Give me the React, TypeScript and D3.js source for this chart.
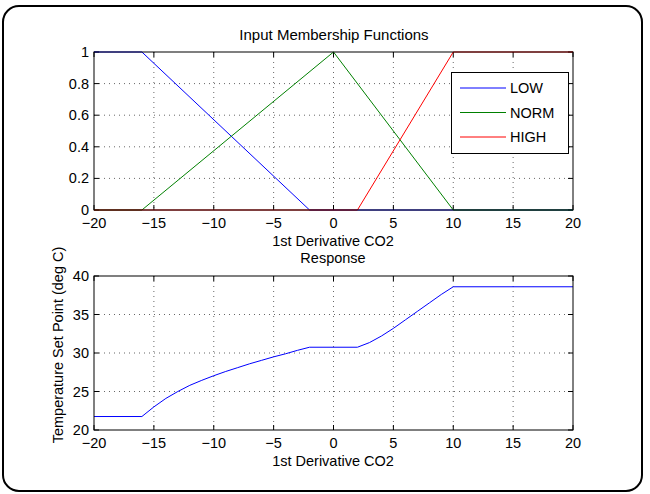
import React from "react";
import * as d3 from "d3";

const xTicks = [-20, -15, -10, -5, 0, 5, 10, 15, 20];
const yTicksTop = [0, 0.2, 0.4, 0.6, 0.8, 1];
const yTicksBottom = [20, 25, 30, 35, 40];

const lowX = [-20, -16, -2, 20];
const lowY = [1, 1, 0, 0];
const normX = [-20, -16, 0, 10, 20];
const normY = [0, 0, 1, 0, 0];
const highX = [-20, 2, 10, 20];
const highY = [0, 0, 1, 1];

const respX = [-20, -16, -15, -14, -13, -12, -11, -10, -9, -8, -7, -6, -5, -4, -3, -2, 2, 3, 4, 5, 6, 7, 8, 9, 10, 20];
const respY = [21.75, 21.75, 23.0, 24.1, 25.0, 25.8, 26.45, 27.05, 27.6, 28.1, 28.6, 29.05, 29.5, 29.9, 30.35, 30.75, 30.75, 31.35, 32.2, 33.2, 34.3, 35.4, 36.5, 37.6, 38.6, 38.6];

const series = [
  { name: "LOW", xs: lowX, ys: lowY, color: "#0000ff" },
  { name: "NORM", xs: normX, ys: normY, color: "#008000" },
  { name: "HIGH", xs: highX, ys: highY, color: "#ff0000" },
];

const FONT = "'Liberation Sans', Arial, Helvetica, sans-serif";
const FS = 14.5;

function fmt(v: number) {
  return v < 0 ? "\u2212" + Math.abs(v) : String(v);
}

function Axes({ x, y, xt, yt, top, bottom, left, right }: any) {
  const tl = 5;
  return (
    <g>
      {xt.slice(1, -1).map((t: number) => (
        <line key={"gx" + t} x1={x(t)} x2={x(t)} y1={top} y2={bottom} stroke="#000" strokeWidth={0.6} strokeDasharray="1,4" />
      ))}
      {yt.slice(1, -1).map((t: number) => (
        <line key={"gy" + t} x1={left} x2={right} y1={y(t)} y2={y(t)} stroke="#000" strokeWidth={0.6} strokeDasharray="1,4" />
      ))}
      {xt.map((t: number) => (
        <g key={"tx" + t}>
          <line x1={x(t)} x2={x(t)} y1={bottom} y2={bottom - tl} stroke="#000" />
          <line x1={x(t)} x2={x(t)} y1={top} y2={top + tl} stroke="#000" />
          <text x={x(t)} y={bottom + 17.5} textAnchor="middle" fontSize={FS} fontFamily={FONT}>{fmt(t)}</text>
        </g>
      ))}
      {yt.map((t: number) => (
        <g key={"ty" + t}>
          <line x1={left} x2={left + tl} y1={y(t)} y2={y(t)} stroke="#000" />
          <line x1={right} x2={right - tl} y1={y(t)} y2={y(t)} stroke="#000" />
          <text x={left - 5} y={y(t) + 5} textAnchor="end" fontSize={FS} fontFamily={FONT}>{fmt(t)}</text>
        </g>
      ))}
    </g>
  );
}

export default function App() {
  const left = 94, right = 573;
  const t1 = 52, b1 = 210;
  const t2 = 276, b2 = 430;
  const x = d3.scaleLinear().domain([-20, 20]).range([left, right]);
  const y1 = d3.scaleLinear().domain([0, 1]).range([b1, t1]);
  const y2 = d3.scaleLinear().domain([20, 40]).range([b2, t2]);

  const mkLine = (ys: any) => d3.line<[number, number]>().x((d) => x(d[0])).y((d) => ys(d[1]));
  const l1 = mkLine(y1);
  const l2 = mkLine(y2);

  return (
    <svg width={650} height={494} style={{ position: "absolute", left: 0, top: 0, background: "#fff" }}>
      <rect x={3} y={6} width={639} height={485} rx={16} ry={16} fill="#fff" stroke="#000" strokeWidth={2} />

      <text x={334} y={40} textAnchor="middle" fontSize={15} fontFamily={FONT}>Input Membership Functions</text>
      <Axes x={x} y={y1} xt={xTicks} yt={yTicksTop} top={t1} bottom={b1} left={left} right={right} />
      {series.map((s) => (
        <path key={s.name} d={l1(s.xs.map((v, i) => [v, s.ys[i]] as [number, number])) || ""} fill="none" stroke={s.color} strokeWidth={1} />
      ))}
      <rect x={left} y={t1} width={right - left} height={b1 - t1} fill="none" stroke="#000" strokeWidth={1} />
      <g>
        <rect x={451.5} y={72.5} width={117} height={81} fill="#fff" stroke="#000" strokeWidth={1} />
        {series.map((s, i) => (
          <g key={"lg" + s.name}>
            <line x1={460} x2={506} y1={88 + i * 24.5} y2={88 + i * 24.5} stroke={s.color} strokeWidth={1} />
            <text x={510} y={88 + i * 24.5 + 5} fontSize={FS} fontFamily={FONT}>{s.name}</text>
          </g>
        ))}
      </g>
      <text x={333} y={246} textAnchor="middle" fontSize={FS} fontFamily={FONT}>1st Derivative CO2</text>

      <text x={333} y={263} textAnchor="middle" fontSize={FS} fontFamily={FONT}>Response</text>
      <Axes x={x} y={y2} xt={xTicks} yt={yTicksBottom} top={t2} bottom={b2} left={left} right={right} />
      <path d={l2(respX.map((v, i) => [v, respY[i]] as [number, number])) || ""} fill="none" stroke="#0000ff" strokeWidth={1} />
      <rect x={left} y={t2} width={right - left} height={b2 - t2} fill="none" stroke="#000" strokeWidth={1} />
      <text x={333} y={466} textAnchor="middle" fontSize={FS} fontFamily={FONT}>1st Derivative CO2</text>
      <text transform={`translate(63,345) rotate(-90)`} textAnchor="middle" fontSize={FS} fontFamily={FONT}>Temperature Set Point (deg C)</text>
    </svg>
  );
}
